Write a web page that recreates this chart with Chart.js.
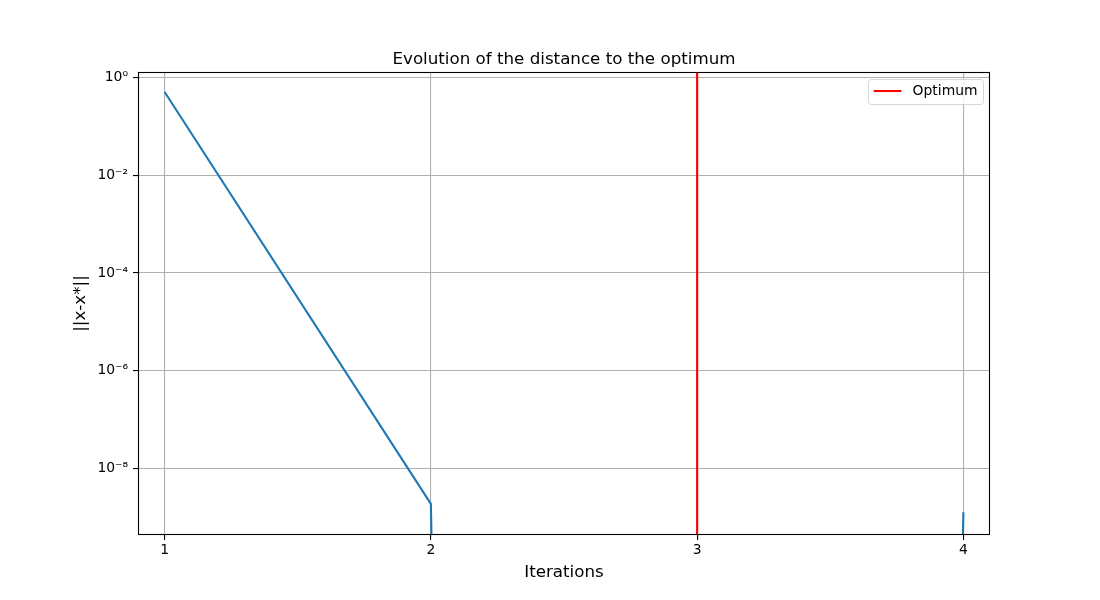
<!DOCTYPE html>
<html><head><meta charset="utf-8">
<script src="https://cdn.jsdelivr.net/npm/chart.js@4.4.0/dist/chart.umd.min.js"></script>
<style>html,body{margin:0;padding:0;background:#fff}#wrap{width:1100px;height:600px}</style>
</head><body><div id="wrap"><canvas id="c" width="1100" height="600"></canvas></div>
<script>
// ---- data ----
const iterations = [1, 2, 3, 4];
const distances = [0.5, 1.89e-9, 0, 1.27e-9];
const optimumIteration = 3;
const xTicks = [1, 2, 3, 4];
const yTicks = [1, 1e-2, 1e-4, 1e-6, 1e-8];
const yTickLabels = ['10⁰', '10⁻²', '10⁻⁴', '10⁻⁶', '10⁻⁸'];
const xMin = 0.9, xMax = 4.1, yMin = 4.37e-10, yMax = 1.285;
// a zero distance cannot sit on a log axis: like matplotlib, send it far below the axes
const LOG_FLOOR = 1e-300;

Chart.defaults.font.family = '"DejaVu Sans", sans-serif';
Chart.defaults.color = '#000';

const blue = '#1f77b4';
const TICK_FS = 13.9, LABEL_FS = 16.7;

const decoPlugin = {
  id: 'deco',
  afterDatasetsDraw(chart) {
    const {ctx, chartArea: a} = chart;
    ctx.save();
    ctx.strokeStyle = '#000';
    ctx.lineWidth = 1.1;
    ctx.strokeRect(Math.round(a.left) + 0.5, Math.round(a.top) + 0.5,
      Math.round(a.right - a.left) - 1, Math.round(a.bottom - a.top) - 1);
    ctx.restore();
  },
  afterDraw(chart) {
    const {ctx, chartArea: a} = chart;
    const ds = chart.data.datasets[1];
    ctx.save();
    ctx.font = TICK_FS + 'px "DejaVu Sans", sans-serif';
    const tw = ctx.measureText(ds.label).width;
    const right = a.right - 6.9, top = a.top + 7;
    const h = 25, w = 44.5 + tw + 5.6;
    const left = right - w;
    ctx.fillStyle = 'rgba(255,255,255,0.8)';
    ctx.strokeStyle = 'rgba(204,204,204,0.8)';
    ctx.lineWidth = 1;
    ctx.beginPath();
    ctx.roundRect(Math.round(left) + 0.5, Math.round(top) + 0.5, Math.round(w), h, 3);
    ctx.fill(); ctx.stroke();
    const ly = top + 12;
    ctx.strokeStyle = ds.borderColor;
    ctx.lineWidth = ds.borderWidth;
    ctx.beginPath();
    ctx.moveTo(left + 5.6, ly); ctx.lineTo(left + 33.4, ly); ctx.stroke();
    ctx.fillStyle = '#000';
    ctx.textBaseline = 'middle';
    ctx.textAlign = 'left';
    ctx.fillText(ds.label, left + 44.5, ly);
    ctx.restore();
  }
};

new Chart(document.getElementById('c'), {
  type: 'line',
  data: {
    datasets: [
      {
        label: '||x-x*||',
        data: iterations.map((x, i) => ({x, y: distances[i] > 0 ? distances[i] : LOG_FLOOR})),
        borderColor: blue, borderWidth: 2.1, pointRadius: 0, tension: 0, fill: false, clip: 0
      },
      {
        label: 'Optimum',
        data: [{x: optimumIteration, y: LOG_FLOOR}, {x: optimumIteration, y: 1e300}],
        borderColor: '#ff0000', borderWidth: 2.1, pointRadius: 0, tension: 0, fill: false, clip: 0
      }
    ]
  },
  options: {
    responsive: false,
    animation: false,
    devicePixelRatio: 1,
    layout: {padding: {top: 48, right: 110, left: 0, bottom: 0}},
    plugins: {
      legend: {display: false},
      tooltip: {enabled: false},
      title: {
        display: true,
        text: 'Evolution of the distance to the optimum',
        font: {size: LABEL_FS, weight: 'normal', lineHeight: 1.2},
        color: '#000',
        padding: {top: 1.5, bottom: 72 - 48 - 1.5 - LABEL_FS * 1.2},
        fullSize: false
      }
    },
    scales: {
      x: {
        type: 'linear',
        min: xMin, max: xMax,
        afterBuildTicks: s => { s.ticks = xTicks.map(v => ({value: v})); },
        afterFit: s => { s.height = 65; },
        ticks: {color: '#000', font: {size: TICK_FS}, padding: 2, maxRotation: 0, autoSkip: false,
          callback: v => String(v)},
        grid: {color: '#b0b0b0', lineWidth: 1.1, tickColor: '#000', tickLength: 5, drawTicks: true},
        border: {display: false},
        title: {display: true, text: 'Iterations', font: {size: LABEL_FS, lineHeight: 1.2}, color: '#000',
          padding: {top: 0, bottom: 17.5}}
      },
      y: {
        type: 'logarithmic',
        min: yMin, max: yMax,
        afterBuildTicks: s => { s.ticks = yTicks.map(v => ({value: v})); },
        afterFit: s => { s.width = 138; },
        ticks: {color: '#000', font: {size: TICK_FS}, padding: 5, autoSkip: false,
          callback: (v, i) => yTickLabels[i]},
        grid: {color: '#b0b0b0', lineWidth: 1.1, tickColor: '#000', tickLength: 5, drawTicks: true},
        border: {display: false},
        title: {display: true, text: '||x-x*||', font: {size: LABEL_FS, lineHeight: 1.2}, color: '#000',
          padding: {top: 70.5, bottom: 0}}
      }
    }
  },
  plugins: [decoPlugin]
});
</script>
</body></html>
